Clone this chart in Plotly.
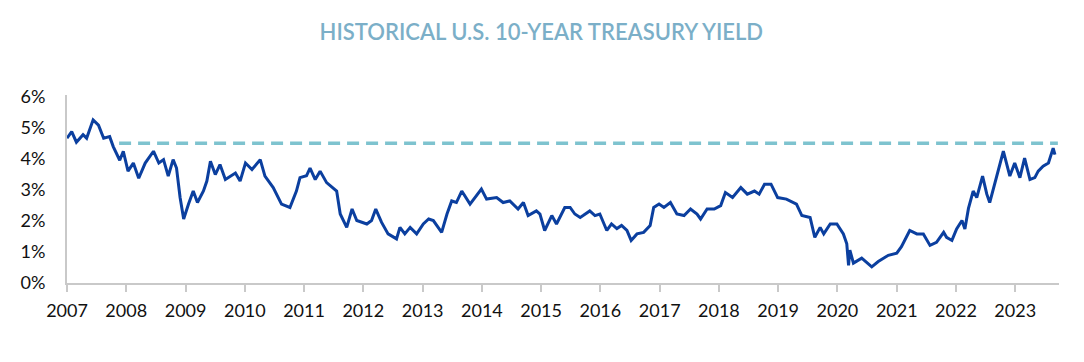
import pandas as pd
import plotly.graph_objects as go

obs_year = [
    2007.00, 2007.08, 2007.16, 2007.27, 2007.33, 2007.44, 2007.53, 2007.62, 2007.72, 2007.78,
    2007.89, 2007.95, 2008.03, 2008.12, 2008.21, 2008.32, 2008.46, 2008.55, 2008.63, 2008.71,
    2008.79, 2008.85, 2008.91, 2008.97, 2009.05, 2009.13, 2009.20, 2009.30, 2009.36, 2009.42,
    2009.50, 2009.58, 2009.67, 2009.75, 2009.84, 2009.92, 2010.01, 2010.12, 2010.26, 2010.34,
    2010.48, 2010.62, 2010.76, 2010.87, 2010.93, 2011.04, 2011.10, 2011.19, 2011.27, 2011.38,
    2011.50, 2011.55, 2011.61, 2011.72, 2011.81, 2011.89, 2012.06, 2012.14, 2012.21, 2012.31,
    2012.42, 2012.56, 2012.62, 2012.70, 2012.79, 2012.90, 2013.01, 2013.10, 2013.18, 2013.32,
    2013.41, 2013.49, 2013.57, 2013.66, 2013.80, 2013.88, 2013.99, 2014.08, 2014.25, 2014.36,
    2014.47, 2014.61, 2014.70, 2014.78, 2014.92, 2014.98, 2015.06, 2015.18, 2015.26, 2015.40,
    2015.49, 2015.57, 2015.66, 2015.71, 2015.82, 2015.91, 2015.99, 2016.11, 2016.19, 2016.28,
    2016.36, 2016.45, 2016.52, 2016.62, 2016.73, 2016.84, 2016.90, 2016.99, 2017.07, 2017.18,
    2017.29, 2017.41, 2017.52, 2017.63, 2017.69, 2017.80, 2017.92, 2018.03, 2018.11, 2018.23,
    2018.37, 2018.48, 2018.60, 2018.68, 2018.77, 2018.88, 2018.99, 2019.14, 2019.31, 2019.40,
    2019.54, 2019.62, 2019.71, 2019.77, 2019.88, 2019.99, 2020.10, 2020.16, 2020.19, 2020.21,
    2020.27, 2020.41, 2020.58, 2020.69, 2020.86, 2021.00, 2021.08, 2021.22, 2021.34, 2021.45,
    2021.56, 2021.67, 2021.79, 2021.84, 2021.93, 2022.01, 2022.10, 2022.15, 2022.21, 2022.29,
    2022.35, 2022.45, 2022.52, 2022.57, 2022.69, 2022.80, 2022.91, 2022.99, 2023.08, 2023.16,
    2023.25, 2023.33, 2023.39, 2023.47, 2023.56, 2023.64, 2023.67,
]
yields = [
    4.66, 4.87, 4.53, 4.77, 4.66, 5.25, 5.08, 4.66, 4.71, 4.39,
    3.95, 4.24, 3.60, 3.86, 3.37, 3.86, 4.24, 3.86, 3.97, 3.44,
    3.97, 3.70, 2.75, 2.06, 2.54, 2.96, 2.59, 2.96, 3.28, 3.92,
    3.49, 3.81, 3.33, 3.44, 3.54, 3.28, 3.86, 3.65, 3.97, 3.44,
    3.07, 2.54, 2.43, 2.96, 3.39, 3.45, 3.70, 3.33, 3.60, 3.23,
    3.02, 2.96, 2.22, 1.79, 2.38, 2.01, 1.90, 2.01, 2.38, 1.95,
    1.58, 1.42, 1.79, 1.58, 1.79, 1.58, 1.90, 2.06, 2.01, 1.63,
    2.22, 2.64, 2.59, 2.96, 2.54, 2.75, 3.02, 2.70, 2.75, 2.59,
    2.64, 2.38, 2.59, 2.17, 2.32, 2.22, 1.69, 2.17, 1.90, 2.43,
    2.43, 2.22, 2.11, 2.17, 2.32, 2.17, 2.22, 1.69, 1.90, 1.75,
    1.85, 1.69, 1.37, 1.58, 1.63, 1.85, 2.43, 2.54, 2.43, 2.59,
    2.22, 2.17, 2.38, 2.22, 2.06, 2.38, 2.38, 2.49, 2.91, 2.75,
    3.07, 2.86, 2.96, 2.86, 3.18, 3.18, 2.75, 2.70, 2.54, 2.17,
    2.11, 1.47, 1.79, 1.58, 1.90, 1.90, 1.58, 1.26, 0.57, 1.06,
    0.64, 0.80, 0.52, 0.69, 0.89, 0.96, 1.17, 1.69, 1.58, 1.58,
    1.21, 1.31, 1.63, 1.47, 1.37, 1.74, 2.01, 1.74, 2.40, 2.96,
    2.75, 3.44, 2.86, 2.59, 3.44, 4.24, 3.44, 3.86, 3.39, 4.02,
    3.33, 3.39, 3.60, 3.76, 3.86, 4.34, 4.13,
]

ref_level = 4.5
ref_start_year = 2007.88
ref_end_year = 2023.72

year_ticks = [str(y) for y in range(2007, 2024)]


def to_date(y):
    yr = int(y)
    return pd.Timestamp(f"{yr}-01-01") + pd.Timedelta(days=round((y - yr) * 365.25))


dates = [to_date(y) for y in obs_year]
ref_dates = [to_date(ref_start_year), to_date(ref_end_year)]
ref_values = [ref_level, ref_level]

LINE = "#0B3F9F"
DASH = "#7EC3CF"
TITLE = "#7BAFC8"
AXIS = "#C9C9C9"
FONT = "Lato, 'Open Sans', sans-serif"

fig = go.Figure()
fig.add_trace(go.Scatter(
    x=ref_dates, y=ref_values, mode="lines",
    line=dict(color=DASH, width=3.5, dash="12px,7px"),
    hoverinfo="skip", showlegend=False,
))
fig.add_trace(go.Scatter(
    x=dates, y=yields, mode="lines",
    line=dict(color=LINE, width=3),
    showlegend=False,
))

fig.update_layout(
    width=1084, height=362,
    margin=dict(l=59, r=33, t=87, b=87),
    paper_bgcolor="white", plot_bgcolor="white",
    font=dict(family=FONT, size=18, color="#111111"),
    title=dict(
        text="HISTORICAL U.S. 10-YEAR TREASURY YIELD",
        x=0.492, xanchor="center", y=0.934, yanchor="middle",
        font=dict(family=FONT, size=22, color=TITLE, weight=600),
    ),
)
fig.update_xaxes(
    type="date",
    range=["2007-01-01", "2023-09-28"],
    tickvals=[f"{y}-01-01" for y in year_ticks],
    ticktext=year_ticks,
    showgrid=False, zeroline=False,
    showline=True, linecolor=AXIS, linewidth=2,
    ticks="outside", ticklen=7, tickwidth=2, tickcolor=AXIS,
    ticklabelstandoff=3,
    tickfont=dict(size=18, color="#111111"),
)
fig.update_yaxes(
    range=[0, 6.05],
    tickvals=[0, 1, 2, 3, 4, 5, 6],
    ticktext=["0%", "1%", "2%", "3%", "4%", "5%", "6%"],
    showgrid=False, zeroline=False,
    showline=True, linecolor=AXIS, linewidth=2,
    ticks="", ticklabelstandoff=16,
    tickfont=dict(size=18, color="#111111"),
)

fig.write_html("out.html")
